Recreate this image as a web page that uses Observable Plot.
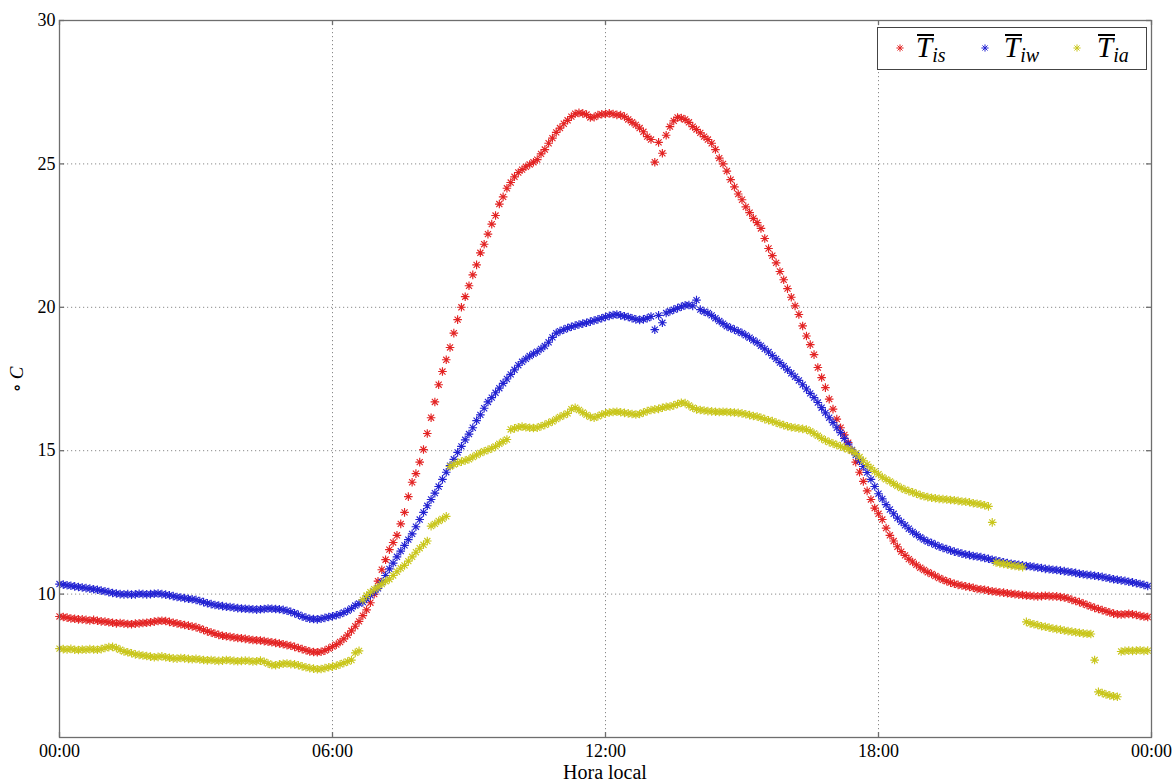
<!DOCTYPE html>
<html>
<head>
<meta charset="utf-8">
<script src="https://cdn.jsdelivr.net/npm/d3@7"></script>
<script src="https://cdn.jsdelivr.net/npm/@observablehq/plot@0.6"></script>
<style>
  html, body { margin: 0; padding: 0; background: #fff; }
  #wrap { position: relative; width: 1174px; height: 782px; overflow: hidden; font-family: "Liberation Serif", "DejaVu Serif", serif; }
  #legend { position: absolute; left: 877px; top: 27px; width: 270px; height: 43px; border: 1.5px solid #444; background: #fff; box-sizing: border-box; }
  #legend svg { position: absolute; top: 14px; }
  #legend .lab { position: absolute; top: 2px; font-style: italic; font-size: 29px; line-height: 34px; color: #000; white-space: nowrap; }
  #legend .lab .T { position: relative; }
  #legend .lab .T::before { content: ""; position: absolute; left: 1px; right: -2px; top: 3px; border-top: 2px solid #000; }
  #legend .lab sub { font-size: 20px; vertical-align: -5px; }
  #ylab { position: absolute; left: 4px; top: 368px; transform: rotate(-90deg); transform-origin: center; font-size: 19px; color: #000; white-space: nowrap; }
  #xlab { position: absolute; left: 0; width: 1210px; top: 761px; text-align: center; font-size: 20px; color: #000; }
</style>
</head>
<body>
<div id="wrap">
  <div id="chart"></div>
  <div id="legend"></div>
  <div id="ylab">∘&thinsp;<i>C</i></div>
  <div id="xlab">Hora local</div>
</div>
<script>
// ---- data (5-minute samples from 00:00 to 23:55) ----
const stepMinutes = 5;
const seriesNames = ["Tis", "Tiw", "Tia"];
const seriesColors = ["#e32424", "#2323d2", "#c9c61c"];
const legendSubs = ["is", "iw", "ia"];

const Tis = [
  9.22, 9.20, 9.18, 9.15, 9.14, 9.12, 9.12, 9.10, 9.08, 9.10, 9.07, 9.05,
  9.04, 9.02, 9.00, 8.98, 8.99, 8.97, 8.96, 8.95, 8.97, 8.98, 8.99, 9.00,
  9.02, 9.04, 9.06, 9.07, 9.06, 9.03, 9.00, 8.98, 8.95, 8.92, 8.90, 8.87,
  8.85, 8.80, 8.75, 8.70, 8.66, 8.62, 8.58, 8.55, 8.53, 8.51, 8.49, 8.47,
  8.46, 8.44, 8.42, 8.40, 8.39, 8.38, 8.36, 8.34, 8.32, 8.30, 8.28, 8.25,
  8.22, 8.20, 8.16, 8.12, 8.08, 8.04, 8.00, 7.98, 7.97, 7.99, 8.03, 8.10,
  8.17, 8.24, 8.33, 8.44, 8.57, 8.72, 8.88, 9.05, 9.25, 9.45, 9.70, 10.00,
  10.45, 10.85, 11.20, 11.55, 11.80, 12.05, 12.45, 12.85, 13.40, 13.90, 14.20, 14.60,
  15.04, 15.60, 16.15, 16.70, 17.30, 17.76, 18.17, 18.60, 19.10, 19.57, 20.00, 20.37,
  20.75, 21.13, 21.48, 21.90, 22.20, 22.55, 22.90, 23.20, 23.60, 23.85, 24.15, 24.35,
  24.55, 24.70, 24.80, 24.90, 24.98, 25.06, 25.15, 25.35, 25.50, 25.72, 25.90, 26.10,
  26.25, 26.40, 26.52, 26.65, 26.75, 26.78, 26.76, 26.72, 26.62, 26.63, 26.70, 26.73,
  26.74, 26.76, 26.74, 26.71, 26.70, 26.65, 26.55, 26.45, 26.36, 26.25, 26.12, 25.95,
  25.85, 25.06, 25.75, 25.37, 26.00, 26.30, 26.50, 26.62, 26.60, 26.55, 26.45, 26.30,
  26.20, 26.08, 25.95, 25.85, 25.72, 25.50, 25.20, 25.00, 24.75, 24.45, 24.20, 23.95,
  23.75, 23.50, 23.30, 23.10, 22.95, 22.75, 22.40, 22.05, 21.80, 21.55, 21.25, 20.96,
  20.65, 20.35, 20.05, 19.75, 19.35, 19.00, 18.70, 18.35, 17.90, 17.55, 17.20, 16.80,
  16.45, 16.10, 15.80, 15.55, 15.28, 15.00, 14.60, 14.25, 13.93, 13.60, 13.30, 13.00,
  12.80, 12.60, 12.30, 12.05, 11.85, 11.65, 11.48, 11.35, 11.22, 11.12, 11.02, 10.92,
  10.84, 10.76, 10.70, 10.63, 10.56, 10.50, 10.45, 10.40, 10.36, 10.32, 10.30, 10.27,
  10.25, 10.22, 10.18, 10.17, 10.15, 10.12, 10.10, 10.08, 10.06, 10.05, 10.03, 10.01,
  10.00, 9.98, 9.97, 9.95, 9.94, 9.93, 9.92, 9.93, 9.94, 9.93, 9.92, 9.92,
  9.90, 9.88, 9.85, 9.80, 9.76, 9.72, 9.67, 9.62, 9.57, 9.52, 9.48, 9.44,
  9.40, 9.36, 9.32, 9.30, 9.29, 9.30, 9.31, 9.30, 9.27, 9.24, 9.22, 9.20
];

const Tiw = [
  10.35, 10.33, 10.31, 10.29, 10.27, 10.25, 10.23, 10.21, 10.19, 10.17, 10.15, 10.12,
  10.10, 10.07, 10.04, 10.02, 10.00, 9.99, 10.00, 9.98, 9.99, 10.01, 10.00, 9.99,
  10.00, 10.01, 10.02, 10.00, 9.98, 9.96, 9.93, 9.90, 9.88, 9.86, 9.84, 9.82,
  9.80, 9.76, 9.72, 9.68, 9.65, 9.62, 9.60, 9.58, 9.56, 9.55, 9.53, 9.51,
  9.50, 9.49, 9.48, 9.47, 9.46, 9.47, 9.48, 9.50, 9.49, 9.48, 9.47, 9.45,
  9.42, 9.38, 9.33, 9.28, 9.22, 9.18, 9.14, 9.13, 9.12, 9.14, 9.17, 9.20,
  9.23, 9.26, 9.30, 9.36, 9.42, 9.50, 9.60, 9.67, 9.72, 9.84, 9.96, 10.08,
  10.20, 10.42, 10.65, 10.88, 11.08, 11.30, 11.50, 11.70, 11.90, 12.10, 12.35, 12.60,
  12.85, 13.08, 13.30, 13.52, 13.75, 14.00, 14.25, 14.48, 14.70, 14.94, 15.15, 15.38,
  15.58, 15.80, 16.05, 16.25, 16.48, 16.70, 16.85, 17.02, 17.18, 17.35, 17.50, 17.66,
  17.82, 17.98, 18.10, 18.20, 18.30, 18.38, 18.45, 18.55, 18.65, 18.78, 18.95, 19.10,
  19.17, 19.22, 19.28, 19.32, 19.36, 19.40, 19.43, 19.46, 19.50, 19.54, 19.58, 19.62,
  19.66, 19.70, 19.73, 19.75, 19.72, 19.69, 19.66, 19.62, 19.58, 19.56, 19.58, 19.62,
  19.68, 19.22, 19.72, 19.46, 19.80, 19.86, 19.92, 19.97, 20.02, 20.07, 20.08, 20.05,
  20.25, 19.92, 19.85, 19.80, 19.72, 19.62, 19.52, 19.43, 19.34, 19.28, 19.22, 19.16,
  19.10, 19.02, 18.94, 18.85, 18.77, 18.66, 18.55, 18.44, 18.32, 18.20, 18.07, 17.95,
  17.82, 17.70, 17.58, 17.45, 17.30, 17.15, 17.00, 16.85, 16.68, 16.50, 16.32, 16.15,
  15.98, 15.80, 15.63, 15.43, 15.23, 15.03, 14.85, 14.65, 14.45, 14.24, 14.00, 13.75,
  13.50, 13.32, 13.12, 12.95, 12.80, 12.65, 12.52, 12.40, 12.28, 12.17, 12.08, 11.98,
  11.90, 11.83, 11.78, 11.72, 11.66, 11.61, 11.57, 11.52, 11.48, 11.45, 11.41, 11.38,
  11.36, 11.33, 11.31, 11.29, 11.26, 11.23, 11.20, 11.17, 11.14, 11.11, 11.08, 11.06,
  11.04, 11.02, 11.00, 10.98, 10.97, 10.95, 10.93, 10.91, 10.88, 10.87, 10.85, 10.84,
  10.82, 10.80, 10.78, 10.76, 10.74, 10.71, 10.69, 10.67, 10.66, 10.64, 10.62, 10.60,
  10.57, 10.55, 10.52, 10.50, 10.48, 10.46, 10.43, 10.41, 10.38, 10.35, 10.32, 10.28
];

const Tia = [
  8.10, 8.08, 8.07, 8.09, 8.06, 8.05, 8.07, 8.06, 8.08, 8.07, 8.06, 8.08,
  8.12, 8.15, 8.16, 8.12, 8.06, 8.00, 7.97, 7.94, 7.90, 7.88, 7.86, 7.84,
  7.82, 7.80, 7.81, 7.83, 7.80, 7.78, 7.76, 7.75, 7.77, 7.76, 7.74, 7.73,
  7.74, 7.72, 7.70, 7.69, 7.70, 7.68, 7.67, 7.68, 7.70, 7.69, 7.67, 7.66,
  7.67, 7.68, 7.67, 7.65, 7.66, 7.68, 7.64, 7.58, 7.53, 7.52, 7.55, 7.57,
  7.58, 7.56, 7.55, 7.52, 7.48, 7.45, 7.42, 7.40, 7.38, 7.39, 7.42, 7.45,
  7.47, 7.50, 7.55, 7.60, 7.65, 7.70, 7.95, 8.02, 9.80, 9.95, 10.07, 10.17,
  10.25, 10.35, 10.45, 10.52, 10.65, 10.78, 10.90, 11.00, 11.15, 11.30, 11.46, 11.60,
  11.72, 11.85, 12.37, 12.45, 12.55, 12.62, 12.71, 14.45, 14.52, 14.58, 14.62, 14.66,
  14.70, 14.78, 14.85, 14.92, 14.98, 15.03, 15.08, 15.15, 15.24, 15.32, 15.39, 15.74,
  15.78, 15.82, 15.84, 15.82, 15.80, 15.79, 15.80, 15.85, 15.90, 15.96, 16.02, 16.10,
  16.18, 16.24, 16.30, 16.45, 16.50, 16.42, 16.33, 16.25, 16.18, 16.15, 16.20, 16.26,
  16.30, 16.33, 16.35, 16.36, 16.34, 16.32, 16.30, 16.28, 16.26, 16.28, 16.33, 16.38,
  16.42, 16.44, 16.46, 16.50, 16.53, 16.54, 16.58, 16.63, 16.67, 16.66, 16.58, 16.50,
  16.44, 16.42, 16.40, 16.38, 16.37, 16.36, 16.35, 16.36, 16.35, 16.34, 16.33, 16.32,
  16.30, 16.27, 16.24, 16.21, 16.19, 16.15, 16.10, 16.06, 16.03, 15.98, 15.93, 15.89,
  15.85, 15.82, 15.80, 15.78, 15.76, 15.74, 15.68, 15.60, 15.52, 15.43, 15.36, 15.30,
  15.25, 15.20, 15.15, 15.10, 15.05, 15.00, 14.90, 14.78, 14.65, 14.52, 14.40, 14.28,
  14.18, 14.08, 14.00, 13.93, 13.85, 13.77, 13.70, 13.64, 13.59, 13.55, 13.50, 13.45,
  13.41, 13.38, 13.36, 13.34, 13.32, 13.31, 13.30, 13.28, 13.27, 13.25, 13.23, 13.22,
  13.20, 13.17, 13.15, 13.13, 13.10, 13.06, 12.50, 11.10, 11.07, 11.05, 11.03, 11.00,
  10.98, 10.96, 10.94, 9.03, 8.98, 8.95, 8.92, 8.88, 8.86, 8.83, 8.80, 8.78,
  8.76, 8.73, 8.71, 8.69, 8.67, 8.65, 8.63, 8.62, 8.61, 7.70, 6.59, 6.55,
  6.50, 6.47, 6.44, 6.42, 8.00, 8.02, 8.03, 8.02, 8.03, 8.04, 8.02, 8.03
];

const xTicks = [0, 360, 720, 1080, 1440];
const xTickLabels = ["00:00", "06:00", "12:00", "18:00", "00:00"];
const yTicks = [10, 15, 20, 25, 30];

// ---- build table ----
const seriesValues = [Tis, Tiw, Tia];
const rows = [];
seriesValues.forEach((vals, s) => {
  vals.forEach((v, i) => {
    if (v != null) rows.push({t: i * stepMinutes, v, series: seriesNames[s]});
  });
});

// MATLAB-style '*' marker (plus + x)
const asterisk = {
  draw(ctx, size) {
    const r = Math.sqrt(size / Math.PI);
    const d = r * Math.SQRT1_2;
    ctx.moveTo(-r, 0); ctx.lineTo(r, 0);
    ctx.moveTo(0, -r); ctx.lineTo(0, r);
    ctx.moveTo(-d, -d); ctx.lineTo(d, d);
    ctx.moveTo(-d, d); ctx.lineTo(d, -d);
  }
};

const W = 1174, H = 782;
const mL = 59, mR = 23, mT = 20, mB = 45;
const plotW = W - mL - mR, plotH = H - mT - mB;
const tickLen = 5;

const chart = Plot.plot({
  width: W,
  height: H,
  marginLeft: mL,
  marginRight: mR,
  marginTop: mT,
  marginBottom: mB,
  style: {fontFamily: "'Liberation Serif', 'DejaVu Serif', serif", fontSize: "18px", color: "#000", background: "#fff"},
  x: {domain: [0, 1440], label: null},
  y: {domain: [5, 30], label: null},
  color: {domain: seriesNames, range: seriesColors},
  marks: [
    Plot.gridX(xTicks.slice(1, -1), {stroke: "#8a8a8a", strokeOpacity: 1, strokeDasharray: "1.2,2.8", strokeWidth: 1}),
    Plot.gridY(yTicks.slice(0, -1), {stroke: "#8a8a8a", strokeOpacity: 1, strokeDasharray: "1.2,2.8", strokeWidth: 1}),
    Plot.dot(rows, {x: "t", y: "v", stroke: "series", fill: "none", symbol: asterisk, r: 4.3, strokeWidth: 1.15}),
    Plot.frame({stroke: "#6e6e6e", strokeWidth: 1.3}),
    // inward tick marks (MATLAB box style)
    Plot.tickY(yTicks, {y: d => d, stroke: "#6e6e6e", strokeWidth: 1.3, insetRight: plotW - tickLen}),
    Plot.tickY(yTicks, {y: d => d, stroke: "#6e6e6e", strokeWidth: 1.3, insetLeft: plotW - tickLen}),
    Plot.tickX(xTicks, {x: d => d, stroke: "#6e6e6e", strokeWidth: 1.3, insetTop: plotH - tickLen}),
    Plot.tickX(xTicks, {x: d => d, stroke: "#6e6e6e", strokeWidth: 1.3, insetBottom: plotH - tickLen}),
    Plot.axisY({ticks: yTicks, tickSize: 0, tickPadding: 4, label: null, tickFormat: d => String(d)}),
    Plot.axisX({ticks: xTicks, tickSize: 0, tickPadding: 7, label: null, tickFormat: d => xTickLabels[xTicks.indexOf(d)]})
  ]
});
document.getElementById("chart").appendChild(chart);

// ---- legend ----
const legend = document.getElementById("legend");
const markerX = [22, 107, 199];
const labelX = [38, 126, 219];
seriesNames.forEach((name, i) => {
  const svg = d3.create("svg").attr("width", 12).attr("height", 12)
    .style("left", (markerX[i] - 6) + "px");
  svg.append("path")
    .attr("transform", "translate(6,6)")
    .attr("d", d3.symbol(asterisk, Math.PI * 3.6 * 3.6)())
    .attr("fill", "none")
    .attr("stroke", seriesColors[i])
    .attr("stroke-width", 1);
  legend.appendChild(svg.node());
  const lab = document.createElement("div");
  lab.className = "lab";
  lab.style.left = labelX[i] + "px";
  lab.innerHTML = '<span class="T">T</span><sub>' + legendSubs[i] + '</sub>';
  legend.appendChild(lab);
});
</script>
</body>
</html>
